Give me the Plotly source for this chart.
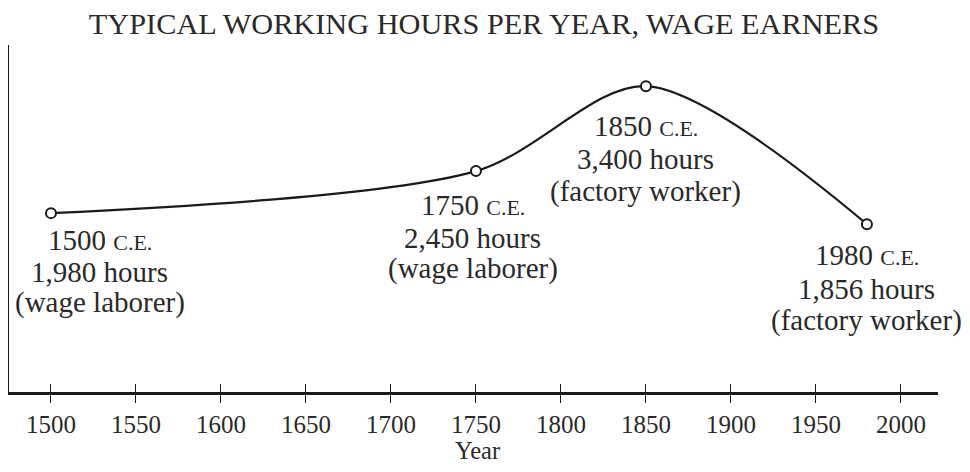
import plotly.graph_objects as go

# ---- data ----
years = [1500, 1750, 1850, 1980]
hours = [1980, 2450, 3400, 1856]
roles = ["wage laborer", "wage laborer", "factory worker", "factory worker"]
tick_years = [1500, 1550, 1600, 1650, 1700, 1750, 1800, 1850, 1900, 1950, 2000]
title_text = "TYPICAL WORKING HOURS PER YEAR, WAGE EARNERS"
x_title = "Year"

# ---- style ----
FONT = "Liberation Serif, Times New Roman, serif"
INK = "#1a1a1a"
TXT = "#2a2a2a"
W, H = 954, 456  # page adds an 8px body margin on every side
# label placement offsets (pixels) per point: xshift, and downward shifts of the 3 lines
label_xshift = [49, -3, 0, 0]
label_dy = [[27, 59, 89], [34, 67, 97], [40, 73, 105], [31, 65, 96]]

fig = go.Figure()
fig.add_trace(go.Scatter(
    x=years, y=hours, mode="lines+markers",
    line=dict(color=INK, width=2.2, shape="spline", smoothing=0.85),
    marker=dict(symbol="circle", size=10, color="white", line=dict(color=INK, width=2)),
    hoverinfo="skip", showlegend=False,
))
# invisible trace bound to the overlay axis that draws the inner half of the ticks
fig.add_trace(go.Scatter(x=years, y=hours, xaxis="x2", mode="markers",
                         marker=dict(opacity=0), hoverinfo="skip", showlegend=False))

annotations = []
for i, (yr, hr, role) in enumerate(zip(years, hours, roles)):
    lines = [
        f"{yr} <span style='font-size:22px'>C.E.</span>",
        f"{hr:,} hours",
        f"({role})",
    ]
    for j, t in enumerate(lines):
        annotations.append(dict(
            x=yr, y=hr, xref="x", yref="y", text=t, showarrow=False,
            xanchor="center", yanchor="middle",
            xshift=label_xshift[i], yshift=-label_dy[i][j],
            font=dict(family=FONT, size=29, color=TXT),
        ))

# x-axis title placed as an annotation so it can sit close to the bottom edge
annotations.append(dict(
    x=0.5038, y=0, xref="paper", yref="paper", text=x_title, showarrow=False,
    xanchor="center", yanchor="middle", yshift=-58.2,
    font=dict(family=FONT, size=24.5, color=TXT),
))

fig.update_layout(
    width=W, height=H,
    margin=dict(l=1, r=24, t=37, b=72),
    paper_bgcolor="white", plot_bgcolor="white",
    title=dict(text=title_text, x=(484 - 8) / W, xanchor="center", y=1 - 15 / H,
               yanchor="middle", yref="container",
               font=dict(family=FONT, size=30.3, color=TXT)),
    annotations=annotations,
    xaxis=dict(
        range=[1475.3, 2021.8], tickmode="array", tickvals=tick_years,
        ticktext=[str(t) for t in tick_years],
        ticks="outside", ticklen=8, tickwidth=1.2, tickcolor=INK,
        showline=True, linecolor=INK, linewidth=2.5, showgrid=False, zeroline=False,
        tickfont=dict(family=FONT, size=25, color=TXT),
        automargin=False, fixedrange=True,
    ),
    xaxis2=dict(
        matches="x", overlaying="x", anchor="y", side="bottom",
        tickmode="array", tickvals=tick_years,
        ticks="inside", ticklen=8, tickwidth=1.2, tickcolor=INK,
        showticklabels=False, showline=False, showgrid=False, zeroline=False,
    ),
    yaxis=dict(
        range=[-20, 3860], showticklabels=False, ticks="", showgrid=False, zeroline=False,
        showline=True, linecolor=INK, linewidth=2.5, automargin=False, fixedrange=True,
    ),
)

fig.write_html("out.html")
